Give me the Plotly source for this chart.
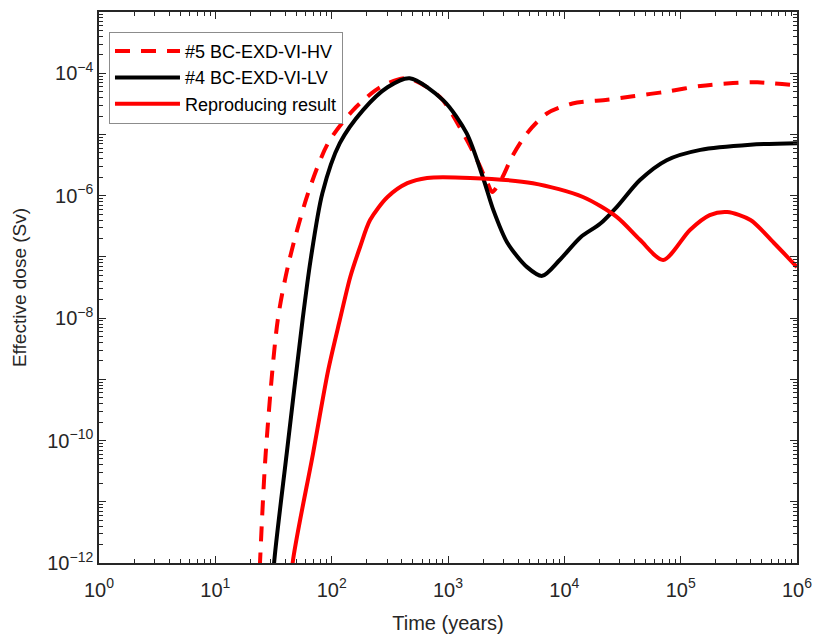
import plotly.graph_objects as go

# ---- data ----
hv_t = [23.6, 24.2, 27.1, 34.4, 43.3, 62.7, 93.1, 153, 261, 447, 851, 1403, 1778, 2188, 2399,
        2917, 3548, 4786, 7079, 11750, 23440, 38900, 54950, 75860, 147900, 281800, 457100, 1000000]
hv_D = [3.2e-13, 1e-12, 6.2e-11, 9.3e-9, 8.9e-8, 1.1e-6, 7.2e-6, 2.5e-5, 5.9e-5, 8.3e-5, 4.1e-5, 9.1e-6, 3.8e-6, 1.6e-6, 1.15e-6,
        1.95e-6, 4.3e-6, 1.05e-5, 2.2e-5, 3.2e-5, 3.7e-5, 4.2e-5, 4.6e-5, 5.0e-5, 6.2e-5, 6.9e-5, 7.1e-5, 6.3e-5]

lv_t = [31.1, 32.0, 41.1, 56.2, 65.9, 83.2, 117.5, 186, 302, 468, 912, 1445, 1995, 2455, 3236,
        4786, 6457, 9120, 13800, 20420, 28180, 44670, 75860, 147900, 398100, 1000000]
lv_D = [3.2e-13, 1e-12, 6.2e-11, 9.3e-9, 8.9e-8, 1.1e-6, 7.2e-6, 2.5e-5, 5.9e-5, 8.3e-5, 3.6e-5, 1.05e-5, 2.0e-6, 5.8e-7, 1.7e-7,
        6.8e-8, 4.9e-8, 8.9e-8, 2.1e-7, 3.5e-7, 6.5e-7, 1.8e-6, 3.8e-6, 5.6e-6, 6.8e-6, 7.2e-6]

rr_t = [45.0, 46.2, 69.2, 93.3, 117.5, 144.5, 175.4, 213.8, 302, 447, 661, 1549, 5370, 14450, 28180, 44670,
        70790, 120200, 177800, 251200, 398100, 631000, 1000000]
rr_D = [3.2e-13, 1e-12, 6.2e-11, 1.4e-9, 9.3e-9, 4.7e-8, 1.45e-7, 4.0e-7, 9.5e-7, 1.6e-6, 1.95e-6, 1.95e-6, 1.6e-6, 9.5e-7, 4.5e-7, 1.9e-7,
        8.9e-8, 2.75e-7, 4.8e-7, 5.4e-7, 4.0e-7, 1.7e-7, 6.8e-8]

names = ["#5 BC-EXD-VI-HV", "#4 BC-EXD-VI-LV", "Reproducing result"]

x_exps = [0, 1, 2, 3, 4, 5, 6]
y_exps = [-12, -11, -10, -9, -8, -7, -6, -5, -4, -3]
y_labeled = [-12, -10, -8, -6, -4]

FONT = "Liberation Sans, Arial, Helvetica, sans-serif"
AXC = "#262626"


def sup(e):
    s = str(e).replace("-", "\u2212")
    return f"10<sup>{s}</sup>"


fig = go.Figure()
fig.add_trace(go.Scatter(x=hv_t, y=hv_D, name=names[0], mode="lines",
                         line=dict(color="#ff0000", width=4, dash="15px,11px", shape="spline", smoothing=0.8)))
fig.add_trace(go.Scatter(x=lv_t, y=lv_D, name=names[1], mode="lines",
                         line=dict(color="#000000", width=4, shape="spline", smoothing=0.8)))
fig.add_trace(go.Scatter(x=rr_t, y=rr_D, name=names[2], mode="lines",
                         line=dict(color="#ff0000", width=4, shape="spline", smoothing=0.8)))

x_minor = [k * 10.0 ** e for e in x_exps[:-1] for k in range(2, 10)]
y_minor = [k * 10.0 ** e for e in y_exps[:-1] for k in range(2, 10)]

fig.update_xaxes(
    type="log", range=[0, 6],
    tickmode="array",
    tickvals=[10.0 ** e for e in x_exps],
    ticktext=[sup(e) for e in x_exps],
    ticks="inside", ticklen=7, tickwidth=1.3, tickcolor=AXC,
    showline=True, linecolor=AXC, linewidth=1.5, mirror="ticks",
    showgrid=False, zeroline=False,
    ticklabelstandoff=8, ticklabeloverflow="allow",
    tickfont=dict(family=FONT, size=20, color=AXC),
    minor=dict(tickmode="array", tickvals=x_minor, ticks="inside", ticklen=4,
               tickwidth=1.2, tickcolor=AXC, showgrid=False),
    title=dict(text="Time (years)", font=dict(family=FONT, size=20, color=AXC), standoff=16),
)
fig.update_yaxes(
    type="log", range=[-12, -3],
    tickmode="array",
    tickvals=[10.0 ** e for e in y_exps],
    ticktext=[sup(e) if e in y_labeled else "" for e in y_exps],
    ticks="inside", ticklen=7, tickwidth=1.3, tickcolor=AXC,
    showline=True, linecolor=AXC, linewidth=1.5, mirror="ticks",
    showgrid=False, zeroline=False,
    tickfont=dict(family=FONT, size=20, color=AXC),
    minor=dict(tickmode="array", tickvals=y_minor, ticks="inside", ticklen=4,
               tickwidth=1.2, tickcolor=AXC, showgrid=False),
    title=dict(text="Effective dose (Sv)", font=dict(family=FONT, size=19, color=AXC), standoff=16),
)

fig.update_layout(
    width=813, height=636,
    margin=dict(l=99, r=16, t=12, b=73, autoexpand=False),
    paper_bgcolor="white", plot_bgcolor="white",
    font=dict(family=FONT, color="#000000"),
    legend=dict(x=0.0143, y=0.964, xanchor="left", yanchor="top",
                bgcolor="white", bordercolor="#8c8c8c", borderwidth=1,
                font=dict(family=FONT, size=18, color="#000000"),
                tracegroupgap=0, itemwidth=65),
    showlegend=True,
)

fig.write_html("out.html",
               config={"displayModeBar": False},
               post_script="document.body.style.margin='0';document.body.style.overflow='hidden';")
